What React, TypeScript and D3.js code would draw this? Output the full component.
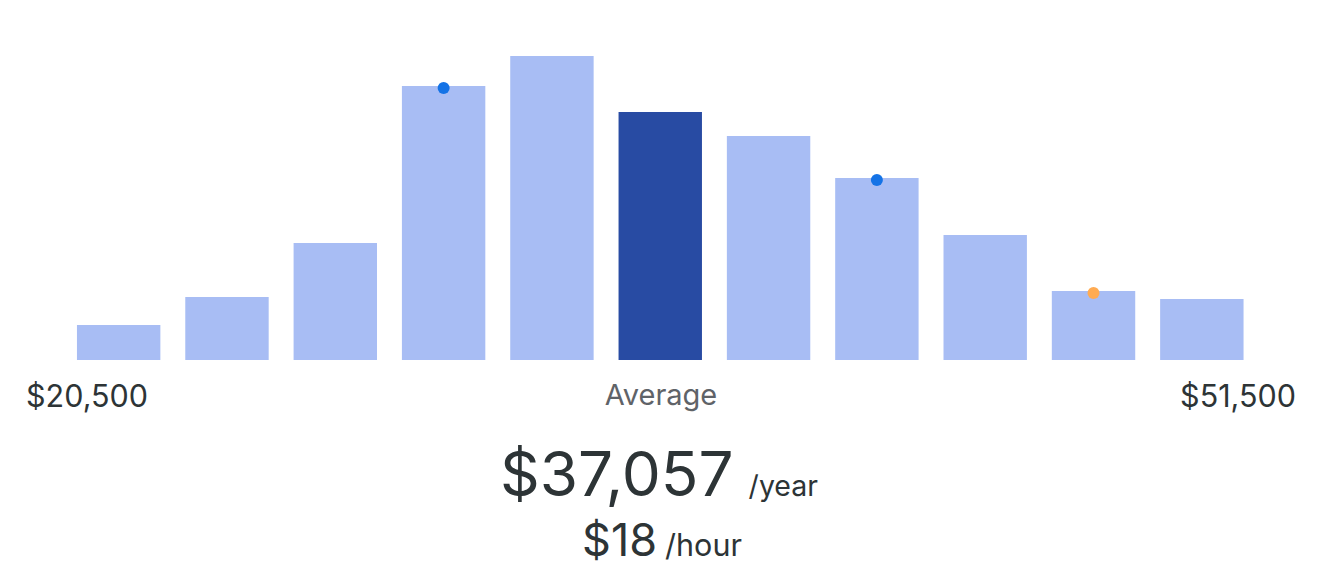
import React from "react";
import * as d3 from "d3";

const categories = ["b1", "b2", "b3", "b4", "b5", "b6", "b7", "b8", "b9", "b10", "b11"];
const counts = [35, 63, 117, 274, 304, 248, 224, 182, 125, 69, 61];
const highlightIndex = 5;
const markerBins = ["b4", "b8", "b10"];
const markerValues = [272, 180, 67];
const markerColors = ["#1473e6", "#1473e6", "#ffab52"];
const minLabel = "$20,500";
const maxLabel = "$51,500";
const midLabel = "Average";
const yearlyValue = "$37,057";
const yearlyUnit = "/year";
const hourlyValue = "$18";
const hourlyUnit = "/hour";

const W = 1314;
const H = 572;

export default function App() {
  const x = d3
    .scaleBand<string>()
    .domain(categories)
    .range([56.5, 1248])
    .paddingInner(0.23)
    .paddingOuter(0.115);
  const y = d3.scaleLinear().domain([0, d3.max(counts) as number]).range([352, 48]);
  const font = "Inter, 'Liberation Sans', Arial, sans-serif";
  const dark = "#2d3436";
  return (
    <svg width={W} height={H} style={{ display: "block", fontFamily: font }}>
      <g>
        {categories.map((c, i) => (
          <rect
            key={c}
            x={x(c)}
            y={y(counts[i])}
            width={x.bandwidth()}
            height={y(0) - y(counts[i])}
            fill={i === highlightIndex ? "#284ba3" : "#a8bdf4"}
          />
        ))}
        {markerBins.map((c, i) => (
          <circle
            key={c}
            cx={(x(c) as number) + x.bandwidth() / 2}
            cy={y(markerValues[i])}
            r={6}
            fill={markerColors[i]}
          />
        ))}
      </g>
      <text x={18} y={399} fontSize={30.5} fill={dark}>
        {minLabel}
      </text>
      <text x={1288} y={399} fontSize={30.5} fill={dark} textAnchor="end">
        {maxLabel}
      </text>
      <text x={653} y={397} fontSize={29} fill="#5f6368" textAnchor="middle">
        {midLabel}
      </text>
      <text x={651} y={488} textAnchor="middle" fill={dark}>
        <tspan fontSize={62}>{yearlyValue}</tspan>
        <tspan fontSize={28.5} dx={15}>{yearlyUnit}</tspan>
      </text>
      <text x={654} y={548} textAnchor="middle" fill={dark}>
        <tspan fontSize={45}>{hourlyValue}</tspan>
        <tspan fontSize={30.5} dx={8}>{hourlyUnit}</tspan>
      </text>
    </svg>
  );
}
